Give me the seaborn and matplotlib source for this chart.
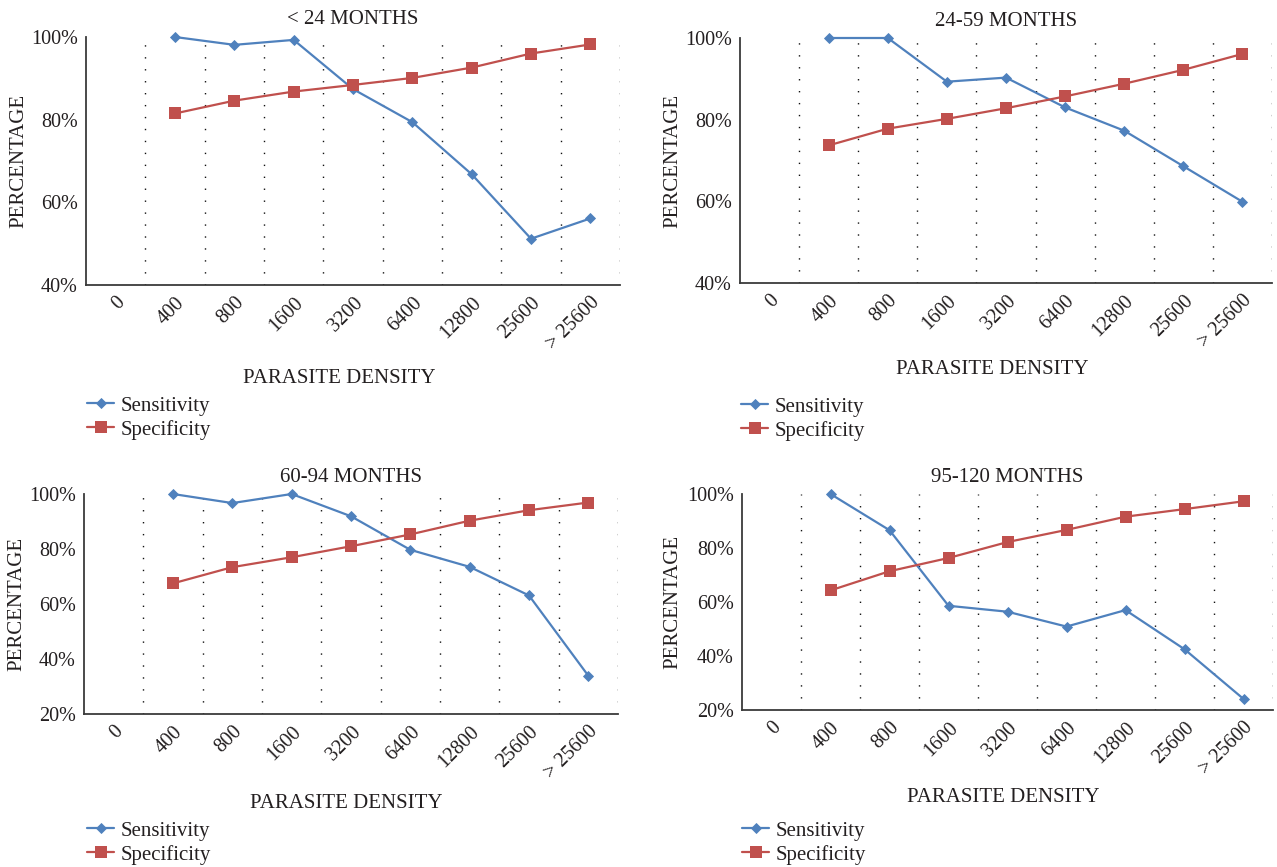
import pandas as pd
import seaborn as sns
import matplotlib
import matplotlib.pyplot as plt

matplotlib.use("Agg")

sns.set_style("white")
plt.rcParams["font.family"] = ["Liberation Serif", "DejaVu Serif"]
plt.rcParams["text.color"] = "#231f20"
plt.rcParams["xtick.color"] = "#231f20"
plt.rcParams["ytick.color"] = "#231f20"
plt.rcParams["axes.labelcolor"] = "#231f20"

# Dados (percentagens)
density_labels = ["0", "400", "800", "1600", "3200", "6400", "12800", "25600", "> 25600"]
titles = ["< 24 MONTHS", "24-59 MONTHS", "60-94 MONTHS", "95-120 MONTHS"]

sens_lt24 = [100.0, 98.1, 99.3, 87.4, 79.4, 66.8, 51.2, 56.1]
spec_lt24 = [81.5, 84.6, 86.8, 88.4, 90.1, 92.6, 96.0, 98.2]
sens_24_59 = [100.0, 100.0, 89.3, 90.3, 83.0, 77.3, 68.6, 59.9]
spec_24_59 = [73.7, 77.8, 80.2, 82.8, 85.7, 88.8, 92.2, 96.1]
sens_60_94 = [100.0, 96.7, 100.0, 91.9, 79.7, 73.5, 63.1, 33.9]
spec_60_94 = [67.5, 73.4, 77.0, 81.0, 85.3, 90.3, 94.1, 96.9]
sens_95_120 = [100.0, 86.6, 58.6, 56.4, 50.9, 57.0, 42.5, 24.1]
spec_95_120 = [64.3, 71.4, 76.3, 82.2, 86.7, 91.6, 94.4, 97.3]

y_min = [40, 40, 20, 20]

sens_all = [sens_lt24, sens_24_59, sens_60_94, sens_95_120]
spec_all = [spec_lt24, spec_24_59, spec_60_94, spec_95_120]

BLUE = "#4f81bd"
RED = "#c0504d"

W, H = 1277, 867
fig = plt.figure(figsize=(W / 100, H / 100), dpi=100)

# caixas dos eixos em pixels: esquerda, topo, direita, base
boxes = [(86, 37, 620, 285), (740, 38, 1272, 283), (84, 494, 618, 714), (742, 494, 1273, 710)]
xlabel_pos = [(339, 379), (992, 370), (346, 804), (1003, 798)]
ylabel_x = [19, 673, 17, 673]
legend_pos = [(87, 396), (741, 397), (87, 821), (742, 821)]


def fx(px):
    return px / W


def fy(py):
    return 1 - py / H


for i in range(4):
    l, t, r, b = boxes[i]
    ax = fig.add_axes([fx(l), fy(b), (r - l) / W, (b - t) / H])

    df = pd.DataFrame({
        "pos": list(range(1, 9)) * 2,
        "valor": sens_all[i] + spec_all[i],
        "medida": ["Sensitivity"] * 8 + ["Specificity"] * 8,
    })

    sns.lineplot(data=df[df["medida"] == "Sensitivity"], x="pos", y="valor", ax=ax,
                 color=BLUE, lw=1.6, marker="D", markersize=5.2, markeredgewidth=0.6,
                 markeredgecolor=BLUE, label="Sensitivity", clip_on=False, zorder=3)
    sns.lineplot(data=df[df["medida"] == "Specificity"], x="pos", y="valor", ax=ax,
                 color=RED, lw=1.6, marker="s", markersize=8.5, markeredgewidth=0,
                 label="Specificity", clip_on=False, zorder=3)

    ax.set_xlim(-0.5, 8.5)
    ax.set_ylim(y_min[i], 100)
    yt = list(range(y_min[i], 101, 20))
    ax.set_yticks(yt, [f"{v}%" for v in yt], fontsize=14.5)
    ax.set_xticks(range(9), density_labels, fontsize=14.5, rotation=45,
                  ha="right", va="top", rotation_mode="anchor")
    ax.set_xticks([k + 0.5 for k in range(9)], minor=True)
    ax.tick_params(axis="both", which="both", length=0)
    ax.tick_params(axis="y", pad=6)
    ax.tick_params(axis="x", pad=6)
    ax.grid(False)
    ax.grid(True, which="minor", axis="x", color="#111111", lw=1.0, ls=(0, (1, 7.6)))

    for s in ["top", "right"]:
        ax.spines[s].set_visible(False)
    for s in ["left", "bottom"]:
        ax.spines[s].set_color("#3a3a3a")
        ax.spines[s].set_linewidth(1.3)

    ax.set_title(titles[i], fontsize=15, pad=9)
    ax.set_xlabel("PARASITE DENSITY", fontsize=15, va="center")
    ax.xaxis.set_label_coords(fx(xlabel_pos[i][0]), fy(xlabel_pos[i][1]), transform=fig.transFigure)
    ax.set_ylabel("PERCENTAGE", fontsize=15, va="center")
    ax.yaxis.set_label_coords(fx(ylabel_x[i]), fy((t + b) / 2), transform=fig.transFigure)

    ax.legend(loc="upper left", bbox_to_anchor=(fx(legend_pos[i][0]), fy(legend_pos[i][1])),
              bbox_transform=fig.transFigure, frameon=False, fontsize=15,
              borderpad=0, borderaxespad=0, handlelength=1.3, handletextpad=0.3,
              labelspacing=0.2)

fig.savefig("out.png", dpi=100)
